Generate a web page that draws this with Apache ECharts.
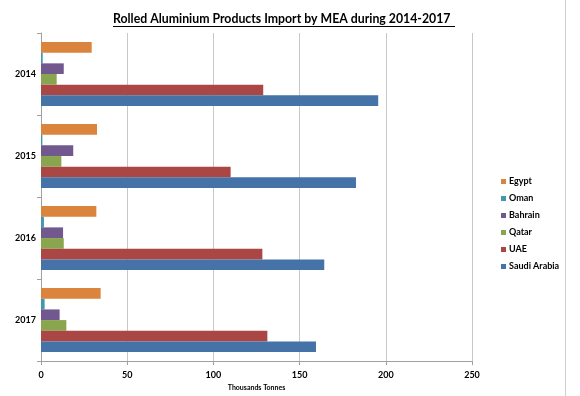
<!DOCTYPE html>
<html>
<head>
<meta charset="utf-8">
<script src="https://cdn.jsdelivr.net/npm/echarts@6/dist/echarts.min.js"></script>
<style>
  html, body { margin: 0; padding: 0; background: #fff; }
  #main { width: 580px; height: 396px; }
</style>
</head>
<body>
<div id="main"></div>
<script>
  // 年份 / 国家
  var years = ['2014', '2015', '2016', '2017'];
  var countries = ['Egypt', 'Oman', 'Bahrain', 'Qatar', 'UAE', 'Saudi Arabia'];
  var colors = ['#db843d', '#4198af', '#71588f', '#89a54e', '#aa4643', '#4572a7'];

  // 千吨
  var egypt = [29.4, 32.5, 32.1, 34.6];
  var oman = [1.0, 0.8, 1.7, 2.1];
  var bahrain = [13.2, 18.7, 12.8, 10.8];
  var qatar = [9.1, 11.8, 13.2, 14.7];
  var uae = [128.9, 110.0, 128.4, 131.3];
  var saudi = [195.6, 182.7, 164.3, 159.5];

  var values = [egypt, oman, bahrain, qatar, uae, saudi];
  var font = 'Lato, "Open Sans", sans-serif';

  var chart = echarts.init(document.getElementById('main'));
  var series = countries.map(function(name, i) {
    return {
      name: name,
      type: 'bar',
      barGap: 0,
      barCategoryGap: '22%',
      itemStyle: { color: colors[i] },
      data: values[i]
    };
  });

  chart.setOption({
    animation: false,
    title: {
      text: 'Rolled Aluminium Products Import by MEA during 2014-2017',
      left: 108,
      top: 8,
      textStyle: { fontFamily: font, fontSize: 12.3, fontWeight: 'bold', color: '#000' }
    },
    legend: {
      orient: 'vertical',
      left: 496,
      top: 172,
      icon: 'rect',
      itemWidth: 5,
      itemHeight: 5,
      itemGap: 8,
      textStyle: { fontFamily: font, fontSize: 9, fontWeight: 'bold', color: '#000', padding: [0, 0, 0, -2] },
      data: countries
    },
    grid: { left: 41, right: 108, top: 33, bottom: 26 },
    xAxis: {
      type: 'value',
      min: 0,
      max: 250,
      interval: 50,
      name: 'Thousands Tonnes',
      nameLocation: 'middle',
      nameGap: 22,
      nameTextStyle: { fontFamily: font, fontSize: 7, fontWeight: 'bold', color: '#000' },
      axisLine: { show: true, lineStyle: { color: '#a0a0a0' } },
      axisTick: { show: true, length: 4, lineStyle: { color: '#a0a0a0' } },
      axisLabel: { fontFamily: font, fontSize: 9, fontWeight: 'bold', color: '#000', margin: 9 },
      splitLine: { lineStyle: { color: '#c8c8c8' } }
    },
    yAxis: {
      type: 'category',
      inverse: true,
      data: years,
      axisLine: { lineStyle: { color: '#a0a0a0' } },
      axisTick: { show: true, length: 4, lineStyle: { color: '#a0a0a0' } },
      axisLabel: { fontFamily: font, fontSize: 9, fontWeight: 'bold', color: '#000', margin: 5 }
    },
    graphic: [
      { type: 'line', shape: { x1: 113, y1: 26.5, x2: 455, y2: 26.5 }, style: { stroke: '#000', lineWidth: 1 } },
      { type: 'line', shape: { x1: 565.5, y1: 0, x2: 565.5, y2: 396 }, style: { stroke: '#d0d0d0', lineWidth: 1 } }
    ],
    series: series
  });
</script>
</body>
</html>
